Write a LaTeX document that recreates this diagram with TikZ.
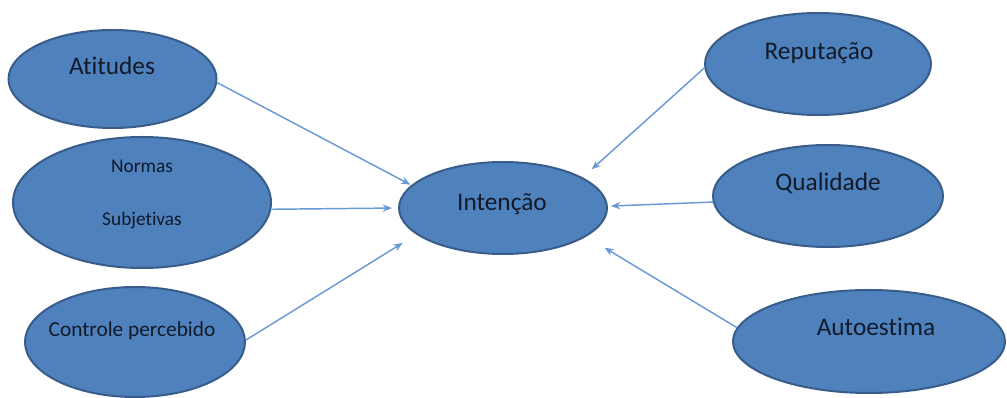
\documentclass[tikz,border=0pt]{standalone}
\usepackage{fontspec}
\setmainfont{Carlito}[Ligatures={NoCommon}]
\usetikzlibrary{shapes.geometric,arrows.meta}
\definecolor{elfill}{HTML}{4F81BD}
\definecolor{eldraw}{HTML}{385D8A}
\definecolor{arrowc}{HTML}{6A9AD6}
\definecolor{txtc}{HTML}{121A2A}
\begin{document}
\begin{tikzpicture}[x=0.75pt,y=-0.75pt,
  bubble/.style 2 args={ellipse, fill=elfill, draw=eldraw, line width=1.5pt,
    inner sep=0pt, minimum width=#1*1.5pt, minimum height=#2*1.5pt},
  big/.style={anchor=base, text=txtc, font=\fontsize{19}{22}\selectfont},
  mid/.style={anchor=base, text=txtc, font=\fontsize{16}{19}\selectfont},
  small/.style={anchor=base, text=txtc, font=\fontsize{14.5}{17}\selectfont},
  link/.style={draw=arrowc, line width=1.1pt, -{Stealth[length=7pt,width=5.5pt]}}]
\useasboundingbox (0,0) rectangle (1007,398);
% ellipses
\node[bubble={104}{49}]    (atit) at (112.5,79) {};
\node[bubble={129}{65.5}]  (norm) at (142,202.5) {};
\node[bubble={110}{55}]    (ctrl) at (135,342) {};
\node[bubble={104}{46}]    (int)  at (503,208) {};
\node[bubble={113}{51}]    (rep)  at (818,64) {};
\node[bubble={115}{51}]    (qual) at (828,196) {};
\node[bubble={136}{51.5}]  (auto) at (869,341.5) {};
% labels
\node[big]   (tatit) at (112,75)  {Atitudes};
\node[small] (tnorm) at (142,173) {Normas};
\node[small] (tsubj) at (142,226) {Subjetivas};
\node[mid]   (tctrl) at (132,337) {Controle percebido};
\node[big]   (tint)  at (502,211) {Intenção};
\node[big]   (trep)  at (819,60)  {Reputação};
\node[big]   (tqual) at (828,191) {Qualidade};
\node[big]   (tauto) at (876,336) {Autoestima};
% connectors
\draw[link, shorten >=0.75pt] (atit.-2) -- (int.166);
\draw[link, shorten >=4.5pt]  (norm.-3) -- (int.180);
\draw[link, shorten >=12pt]   (ctrl.1) -- (int.197.6);
\draw[link, shorten >=9pt]    (rep.182) -- (int.21.5);
\draw[link, shorten >=2.25pt] (qual.183) -- (int.1);
\draw[link, shorten >=16pt]   (auto.174) -- (int.-19.4);
\end{tikzpicture}
\end{document}
